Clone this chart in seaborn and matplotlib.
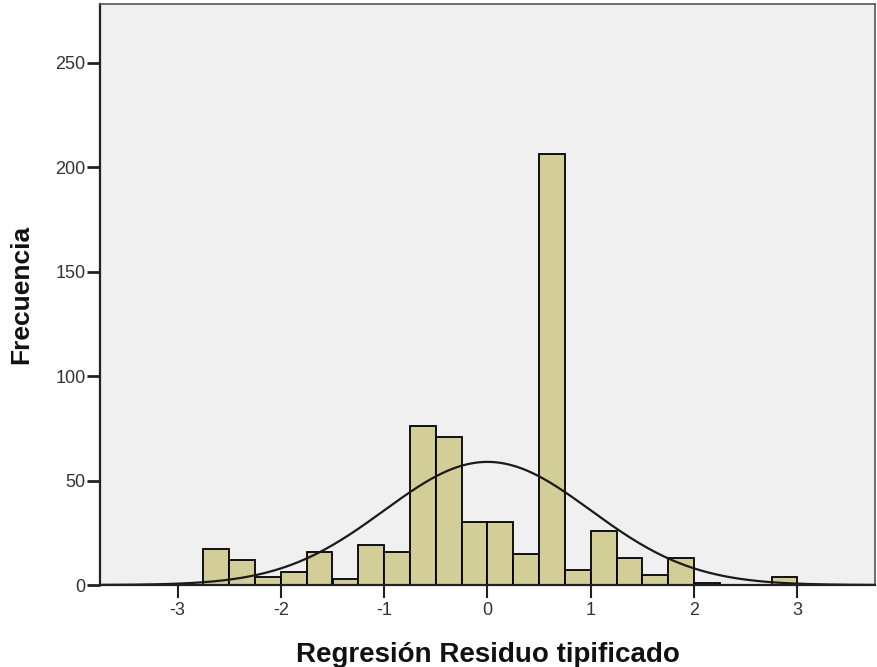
import numpy as np
import pandas as pd
import matplotlib
matplotlib.use("Agg")
import matplotlib.pyplot as plt
import seaborn as sns

# Histogram of standardized regression residuals (bin width 0.25)
bin_left = [-2.75, -2.5, -2.25, -2.0, -1.75, -1.5, -1.25, -1.0, -0.75, -0.5,
            -0.25, 0.0, 0.25, 0.5, 0.75, 1.0, 1.25, 1.5, 1.75, 2.0,
            2.25, 2.5, 2.75]
counts = [17, 12, 4, 6, 16, 3, 19, 16, 76, 71,
          30, 30, 15, 206, 7, 26, 13, 5, 13, 1,
          0, 0, 4]
bin_width = 0.25

# Normal reference curve parameters
resid_mean = 0.0
resid_std = 0.999
n_obs = sum(counts)

x_ticks = [-3, -2, -1, 0, 1, 2, 3]
y_ticks = [0, 50, 100, 150, 200, 250]

sns.set_theme(style="white")
plt.rcParams["font.family"] = ["Liberation Sans", "DejaVu Sans"]

df = pd.DataFrame({"centre": np.array(bin_left) + bin_width / 2, "n": counts})

fig = plt.figure(figsize=(8.78, 6.67), dpi=100)
ax = fig.add_axes([100 / 878, 82 / 667, 775 / 878, 581 / 667])
ax.set_facecolor("#F0F0F0")

sns.histplot(data=df, x="centre", weights="n",
             binwidth=bin_width,
             binrange=(bin_left[0], bin_left[-1] + bin_width),
             color="#D3CE97", alpha=1.0, edgecolor="black", linewidth=1.3,
             ax=ax)

xs = np.linspace(-3.75, 3.75, 600)
pdf = np.exp(-0.5 * ((xs - resid_mean) / resid_std) ** 2) / (resid_std * np.sqrt(2 * np.pi))
sns.lineplot(x=xs, y=pdf * n_obs * bin_width, color="#1a1a1a", linewidth=1.6, ax=ax)

ax.set_xlim(-3.75, 3.75)
ax.set_ylim(0, 278)
ax.set_xticks(x_ticks)
ax.set_xticklabels([str(t) for t in x_ticks])
ax.set_yticks(y_ticks)
ax.set_yticklabels([str(t) for t in y_ticks])
ax.tick_params(axis="both", direction="out", bottom=True, left=True,
               color="#222222", labelsize=13, labelcolor="#333333")
ax.tick_params(axis="y", length=9.5, width=2.0, pad=1)
ax.tick_params(axis="x", length=9, width=1.5, pad=3)

for side in ["left", "bottom"]:
    ax.spines[side].set_color("#222222")
    ax.spines[side].set_linewidth(1.6)
for side in ["top", "right"]:
    ax.spines[side].set_color("#555555")
    ax.spines[side].set_linewidth(1.2)

ax.set_xlabel("Regresión Residuo tipificado", fontsize=20, fontweight="bold",
              color="#111111", labelpad=17)
ax.set_ylabel("Frecuencia", fontsize=19, fontweight="bold",
              color="#111111", labelpad=16)

fig.savefig("out.png", dpi=100)
